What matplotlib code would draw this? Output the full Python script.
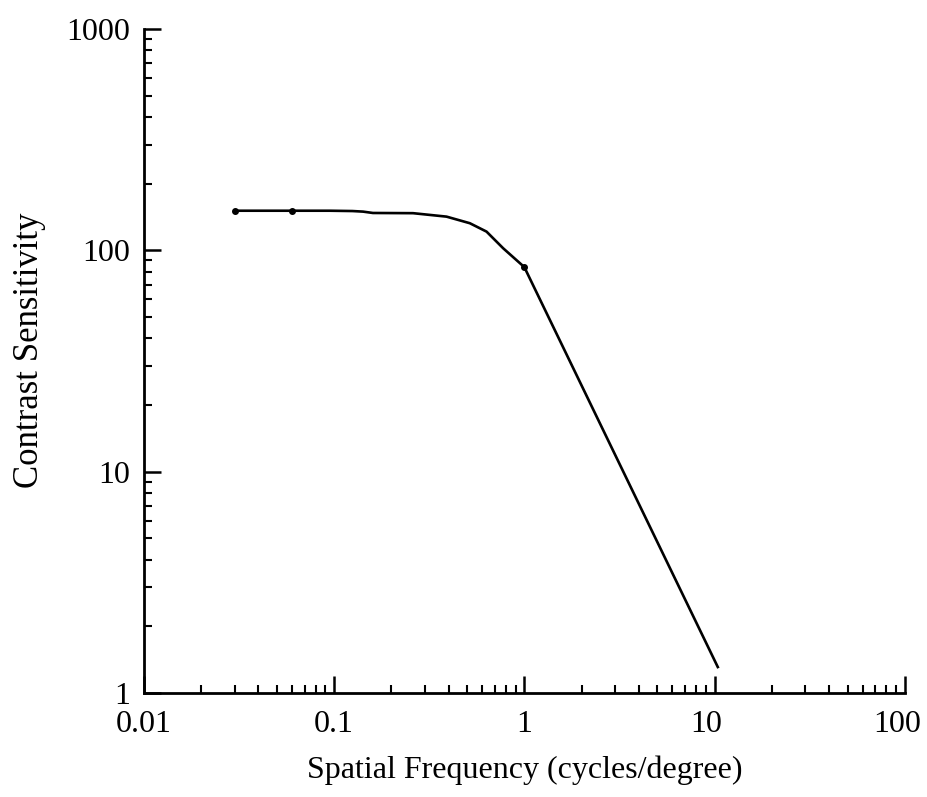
import numpy as np
import matplotlib.pyplot as plt
import matplotlib.transforms as mtransforms
from matplotlib.ticker import FuncFormatter, LogLocator, NullFormatter

plt.rcParams['font.family'] = ['Liberation Serif', 'DejaVu Serif']

# contrast sensitivity curve
freq = [0.03, 0.06, 0.095, 0.125, 0.142, 0.16, 0.26, 0.39, 0.517, 0.633, 0.774, 1.0, 10.4]
sens = [151, 151, 151, 150.5, 149.6, 147.5, 147.2, 142, 132.6, 121.5, 102.2, 84, 1.31]
# points drawn with a dot
dot_freq = [0.03, 0.06, 1.0]
dot_sens = [150.5, 150.5, 84]

fig = plt.figure(figsize=(9.28, 7.97), dpi=100)
ax = fig.add_axes([0.155, 0.1305, 0.82, 0.8331])

ax.plot(freq, sens, color='black', lw=1.9, solid_joinstyle='round')
ax.plot(dot_freq, dot_sens, 'o', color='black', ms=4)

ax.set_xscale('log')
ax.set_yscale('log')
ax.set_xlim(0.01, 100)
ax.set_ylim(1, 1000)

fmt = FuncFormatter(lambda v, p: '%g' % v)
for axis in (ax.xaxis, ax.yaxis):
    axis.set_major_locator(LogLocator(base=10))
    axis.set_minor_locator(LogLocator(base=10, subs=np.arange(2, 10)))
    axis.set_major_formatter(fmt)
    axis.set_minor_formatter(NullFormatter())

ax.spines['top'].set_visible(False)
ax.spines['right'].set_visible(False)
ax.spines['left'].set_linewidth(2)
ax.spines['bottom'].set_linewidth(2)
ax.tick_params(which='major', direction='in', length=12, width=1.8, labelsize=23)
ax.tick_params(axis='x', which='major', pad=12)
ax.tick_params(axis='y', which='major', pad=10)
ax.tick_params(which='minor', direction='in', length=6, width=1.5)

ax.set_xlabel('Spatial Frequency (cycles/degree)', fontsize=23, labelpad=12)
ax.set_ylabel('Contrast Sensitivity', fontsize=25)
ax.yaxis.set_label_coords(-0.128, 0.516)

# the right-most x labels sit a little left of their ticks
fig.canvas.draw()
for lab in ax.get_xticklabels():
    if lab.get_text() in ('10', '100'):
        lab.set_transform(lab.get_transform() +
                          mtransforms.ScaledTranslation(-0.08, 0, fig.dpi_scale_trans))

fig.savefig('out.png', dpi=100)
